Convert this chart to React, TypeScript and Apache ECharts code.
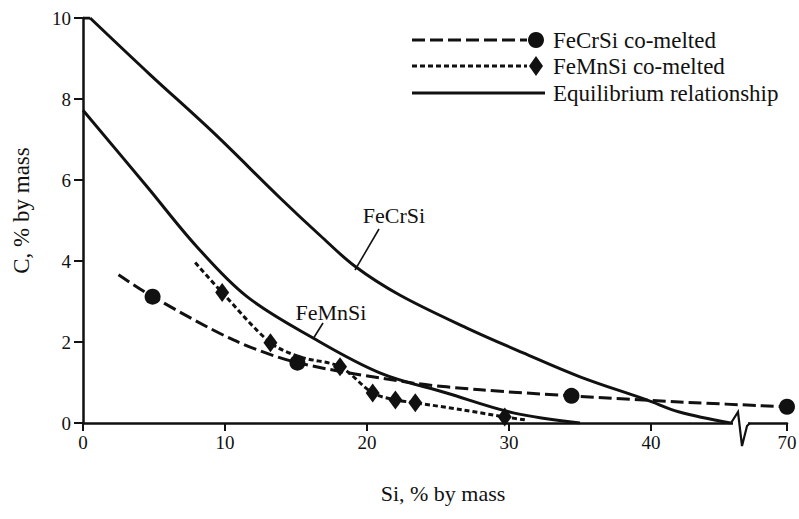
import React, { useEffect, useRef } from "react";
import * as echarts from "echarts";

// ---- data (x = Si % by mass, y = C % by mass) ----
const xTickValues = [0, 10, 20, 30, 40, 70];
const yTickMax = 10;

const eqFeCrSi: number[][] = [
  [0, 10], [0.5, 10], [4.7, 8.61], [9.15, 7.18], [13.9, 5.55], [16.7, 4.63],
  [19.15, 3.87], [22.3, 3.16], [27.0, 2.35], [31.0, 1.73], [35.0, 1.14], [39.7, 0.57],
  [42.0, 0.27], [45.6, 0],
];
const eqFeMnSi: number[][] = [
  [0, 7.72], [4.5, 5.84], [8.0, 4.36], [11.55, 3.12], [16.2, 2.1],
  [20.9, 1.24], [25.6, 0.74], [30.3, 0.25], [35.0, 0.0],
];
const feCrSiLine: number[][] = [
  [2.5, 3.66], [4.9, 3.12], [10.6, 2.05], [15.1, 1.49], [23.2, 0.99],
  [28.0, 0.82], [34.4, 0.67], [42.0, 0.52], [70, 0.4],
];
const feCrSiPoints: number[][] = [[4.9, 3.12], [15.1, 1.49], [34.4, 0.67], [70, 0.4]];
const feMnSiLine: number[][] = [
  [7.9, 3.96], [9.8, 3.22], [13.2, 1.98], [15.3, 1.63], [18.1, 1.39],
  [20.4, 0.74], [22.0, 0.57], [23.4, 0.5], [26.8, 0.32], [29.7, 0.15], [31.3, 0.07],
];
const feMnSiPoints: number[][] = [
  [9.8, 3.22], [13.2, 1.98], [18.1, 1.39], [20.4, 0.74], [22.0, 0.57], [23.4, 0.5], [29.7, 0.15],
];

const legendNames = ["FeCrSi co-melted", "FeMnSi co-melted", "Equilibrium relationship"];
const curveLabels = ["FeCrSi", "FeMnSi"];

// ---- broken x axis: values above SPLIT are compressed ----
const SPLIT = 46;
const COMPRESS = 0.149;
const fx = (x: number) => (x <= SPLIT ? x : SPLIT + (x - SPLIT) * COMPRESS);
const ifx = (v: number) => (v <= SPLIT + 1e-6 ? v : SPLIT + (v - SPLIT) / COMPRESS);
const mapPts = (pts: number[][]) => pts.map(([x, y]) => [fx(x), y]);

const INK = "#111";
const FONT = "Liberation Serif";

const txt = (text: string, x: number, y: number, size: number, align = "left") => ({
  type: "text",
  z: 100,
  x,
  y,
  style: {
    text,
    fill: INK,
    fontSize: size,
    fontFamily: FONT,
    align,
    verticalAlign: "middle",
  },
});

export default function App() {
  const ref = useRef<HTMLDivElement>(null);
  useEffect(() => {
    if (!ref.current) return;
    const chart = echarts.init(ref.current, undefined, { renderer: "svg" });
    const tickVals = xTickValues.map(fx);
    const solid = { color: INK, width: 3 };
    const option: any = {
      animation: false,
      backgroundColor: "#fff",
      textStyle: { fontFamily: FONT, color: INK },
      grid: { left: 83, right: 12, top: 18, bottom: 96, containLabel: false, outerBoundsMode: "none" },
      xAxis: {
        type: "value",
        min: 0,
        max: fx(70),
        name: "Si, % by mass",
        nameLocation: "middle",
        nameGap: 59,
        nameTextStyle: { fontFamily: FONT, fontSize: 22, color: INK, padding: [0, 0, 0, 16] },
        axisLine: { show: true, lineStyle: { color: INK, width: 2.5 } },
        axisTick: { show: true, inside: false, length: 8, customValues: tickVals, lineStyle: { color: INK, width: 2 } },
        axisLabel: {
          customValues: tickVals,
          margin: 10,
          fontFamily: FONT,
          fontSize: 19,
          color: INK,
          formatter: (v: number) => String(Math.round(ifx(v))),
        },
        splitLine: { show: false },
      },
      yAxis: {
        type: "value",
        min: 0,
        max: yTickMax,
        interval: 2,
        name: "C, % by mass",
        nameLocation: "middle",
        nameGap: 50,
        nameTextStyle: { fontFamily: FONT, fontSize: 23, color: INK, padding: [0, 0, 0, 20] },
        axisLine: { show: true, lineStyle: { color: INK, width: 2.5 } },
        axisTick: { show: true, inside: false, length: 9, lineStyle: { color: INK, width: 2 } },
        axisLabel: { margin: 12, fontFamily: FONT, fontSize: 19, color: INK },
        splitLine: { show: false },
      },
      series: [
        {
          name: "Equilibrium FeCrSi (start)",
          type: "line",
          data: mapPts(eqFeCrSi.slice(0, 2)),
          smooth: false,
          showSymbol: false,
          lineStyle: solid,
        },
        {
          name: "Equilibrium FeCrSi",
          type: "line",
          data: mapPts(eqFeCrSi.slice(1)),
          smooth: 0.35,
          showSymbol: false,
          lineStyle: solid,
        },
        {
          name: "Equilibrium FeMnSi",
          type: "line",
          data: mapPts(eqFeMnSi),
          smooth: 0.35,
          showSymbol: false,
          lineStyle: solid,
        },
        {
          name: "FeCrSi line",
          type: "line",
          data: mapPts(feCrSiLine),
          smooth: 0.3,
          showSymbol: false,
          lineStyle: { color: INK, width: 3, type: [13, 5] },
        },
        {
          name: "FeMnSi line",
          type: "line",
          data: mapPts(feMnSiLine),
          smooth: 0.3,
          showSymbol: false,
          lineStyle: { color: INK, width: 3, type: [5, 3] },
        },
        {
          name: legendNames[0],
          type: "scatter",
          data: mapPts(feCrSiPoints),
          symbol: "circle",
          symbolSize: 16,
          itemStyle: { color: INK, opacity: 1 },
          z: 5,
        },
        {
          name: legendNames[1],
          type: "scatter",
          data: mapPts(feMnSiPoints),
          symbol: "diamond",
          symbolSize: [14, 19],
          itemStyle: { color: INK, opacity: 1 },
          z: 5,
        },
      ],
      graphic: [
        // axis break
        { type: "rect", z: 100, shape: { x: 733, y: 418, width: 15, height: 12 }, style: { fill: "#fff" } },
        {
          type: "polyline",
          z: 101,
          shape: { points: [[731, 423], [738, 412], [742, 446], [747, 426], [750, 423]] },
          style: { stroke: INK, lineWidth: 2.2, fill: "none" },
        },
        // legend
        { type: "line", z: 100, shape: { x1: 412, y1: 40, x2: 527, y2: 40 }, style: { stroke: INK, lineWidth: 3, lineDash: [13, 5] } },
        { type: "circle", z: 100, shape: { cx: 536, cy: 40, r: 8 }, style: { fill: INK } },
        txt(legendNames[0], 553, 40, 23),
        { type: "line", z: 100, shape: { x1: 412, y1: 66, x2: 527, y2: 66 }, style: { stroke: INK, lineWidth: 3, lineDash: [5, 3] } },
        { type: "polygon", z: 100, shape: { points: [[536, 56], [543, 66], [536, 76], [529, 66]] }, style: { fill: INK } },
        txt(legendNames[1], 553, 66, 23),
        { type: "line", z: 100, shape: { x1: 412, y1: 93, x2: 545, y2: 93 }, style: { stroke: INK, lineWidth: 3 } },
        txt(legendNames[2], 553, 93, 23),
        // curve annotations
        txt(curveLabels[0], 394, 215, 22, "center"),
        { type: "line", z: 100, shape: { x1: 379, y1: 229, x2: 355, y2: 270 }, style: { stroke: INK, lineWidth: 1.6 } },
        txt(curveLabels[1], 331, 312, 22, "center"),
        { type: "line", z: 100, shape: { x1: 323, y1: 323, x2: 313, y2: 339 }, style: { stroke: INK, lineWidth: 1.6 } },
      ],
    };
    chart.setOption(option);
    return () => chart.dispose();
  }, []);
  return (
    <div
      ref={ref}
      style={{ position: "fixed", left: 0, top: 0, width: 799, height: 519, background: "#fff" }}
    />
  );
}
